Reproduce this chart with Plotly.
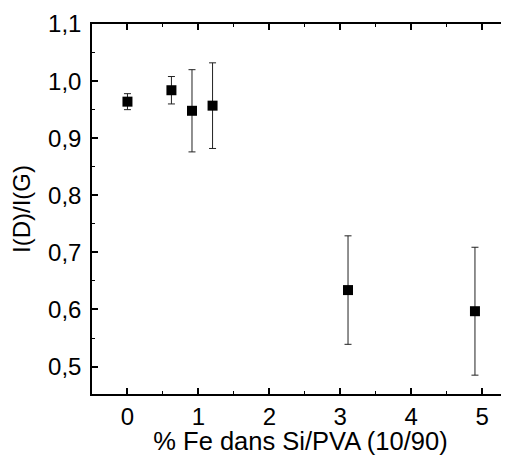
import plotly.graph_objects as go

# Fe content (%) vs Raman intensity ratio I(D)/I(G)
fe_pct = [0.0, 0.62, 0.91, 1.2, 3.11, 4.9]
ratio = [0.964, 0.984, 0.948, 0.957, 0.634, 0.597]
ratio_err = [0.014, 0.024, 0.072, 0.075, 0.095, 0.112]

x_ticks = [0, 1, 2, 3, 4, 5]
y_ticks = [0.5, 0.6, 0.7, 0.8, 0.9, 1.0, 1.1]

font_family = "Liberation Sans, Arial, sans-serif"

fig = go.Figure()

fig.add_trace(
    go.Scatter(
        x=fe_pct,
        y=ratio,
        mode="markers",
        marker=dict(symbol="square", size=10, color="black"),
        error_y=dict(
            type="data",
            array=ratio_err,
            visible=True,
            color="#222222",
            thickness=1,
            width=3.5,
        ),
        showlegend=False,
    )
)

axis_common = dict(
    showgrid=False,
    zeroline=False,
    showline=True,
    linecolor="black",
    linewidth=1.5,
    ticks="inside",
    ticklen=6,
    tickwidth=1.5,
    tickcolor="black",
    automargin=False,
    tickfont=dict(family=font_family, size=24, color="black"),
)

fig.update_xaxes(
    **axis_common,
    range=[-0.5, 5.38],
    tickvals=x_ticks,
    mirror="ticks",
    minor=dict(dtick=0.5, ticks="inside", ticklen=3, tickcolor="black", tickwidth=1),
    title=dict(
        text="% Fe dans Si/PVA (10/90)",
        font=dict(family=font_family, size=25.5, color="black"),
        standoff=0,
    ),
)

fig.update_yaxes(
    **axis_common,
    range=[0.452, 1.1],
    tickvals=y_ticks,
    tickformat=".1f",
    ticklabelstandoff=4,
    minor=dict(dtick=0.05, ticks="inside", ticklen=3, tickcolor="black", tickwidth=1),
    title=dict(
        text="I(D)/I(G)",
        font=dict(family=font_family, size=24, color="black"),
        standoff=11,
    ),
)

# page body adds an 8px margin, so the figure is sized to fit the window
fig.update_layout(
    width=501,
    height=447,
    margin=dict(l=84, r=0, t=16, b=61),
    plot_bgcolor="white",
    paper_bgcolor="white",
    separators=", ",
)

fig.write_html("out.html")
